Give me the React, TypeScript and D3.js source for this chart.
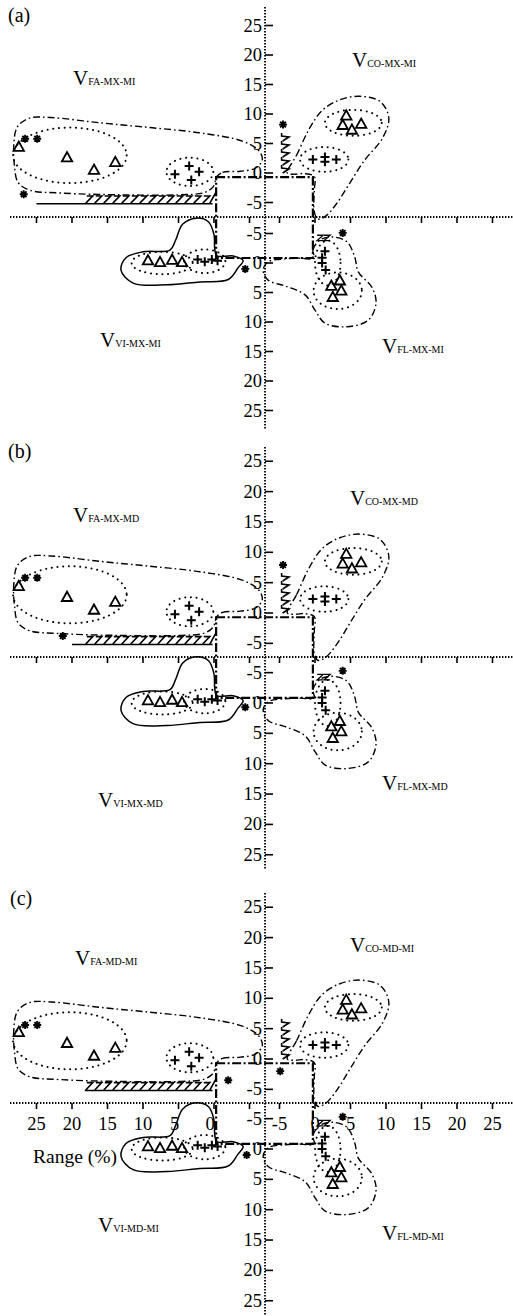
import * as d3 from 'd3';

type Pt = [number, number];
type Group = [number, number, number, number];

// ---- axis ticks ----
const yTicksUp = [25, 20, 15, 10, 5, 0, -5];
const yTicksDown = [-5, 0, 5, 10, 15, 20, 25];
const xTicksLeft = [25, 20, 15, 10, 5, 0, -5];
const xTicksRight = [-5, 0, 5, 10, 15, 20, 25];
const xLabelsLeft = [25, 20, 15, 10, 5, 0];
const xLabelsRight = [-5, 0, 5, 10, 15, 20, 25];

// ---- panel names ----
const panelTags = ['(a)', '(b)', '(c)'];
const faNames = ['FA-MX-MI', 'FA-MX-MD', 'FA-MD-MI'];
const coNames = ['CO-MX-MI', 'CO-MX-MD', 'CO-MD-MI'];
const viNames = ['VI-MX-MI', 'VI-MX-MD', 'VI-MD-MI'];
const flNames = ['FL-MX-MI', 'FL-MX-MD', 'FL-MD-MI'];

// ---- outlines, in range (%) measured outward from each quadrant origin ----
const faHull: Pt[] = [[-0.4, -0.6], [-1.2, 0.1], [-3.7, 0.3], [-5.8, 0.8], [-6.8, 2.2], [-6.3, 3.8], [-4.0, 5.4], [2, 6.8], [9, 7.7], [16, 8.5], [23, 9.4], [26, 9.3], [27.7, 7.8], [28.2, 4.7], [28.1, 1.2], [27.6, -1.6], [26, -2.9], [21.5, -3.4], [13, -3.7], [5, -3.7], [1.3, -3.3], [0.1, -2.3], [-0.2, -1.2]];
const coHull: Pt[] = [[-3.9, 0], [-2.6, 3.0], [-0.8, 7.5], [1.0, 10.6], [3.5, 12.4], [6.3, 13.0], [9.2, 12.1], [10.4, 9.3], [9.5, 5.9], [7.0, 2.2], [4.9, -1.7], [3.1, -5.1], [1.5, -7.3], [0.4, -7.8], [-0.1, -6.6], [-0.1, -3], [-0.1, -0.6], [-1.5, -0.1], [-2.8, -0.2]];
const viHull: Pt[] = [[-0.4, -1.2], [-2.7, -1.2], [-4.1, -0.4], [-3.4, 0.8], [-2.0, 2.8], [2.0, 3.2], [6.6, 3.7], [11.4, 3.4], [13.1, 1.2], [12.4, -0.9], [10, -1.9], [6.2, -2.2], [5.4, -3.9], [4.4, -6.6], [2.5, -7.6], [0.8, -7.0], [0, -4.8], [-0.1, -2.5]];
const flHull: Pt[] = [[-0.1, -0.8], [-0.3, -2.2], [0.7, -3.9], [2.5, -4.4], [4.5, -3.6], [5.6, -1.0], [6.1, 1.5], [8.0, 4.1], [8.6, 6.8], [7.5, 9.7], [4.5, 10.8], [1.4, 10.2], [0, 8.0], [-1.4, 5.4], [-4.2, 3.9], [-6.6, 2.9], [-7.3, 1.2], [-6.6, -0.2], [-4.2, -0.7], [-2.1, -0.8]];

// ---- dotted groupings [cx, cy, rx, ry] ----
const faGroups: Group[] = [[20.3, 3.0, 8.0, 4.7], [3.4, 0.2, 3.3, 2.4]];
const coGroups: Group[] = [[5.4, 8.5, 4.0, 2.2], [1.3, 2.3, 3.4, 2.1]];
const viGroups: Group[] = [[7.3, 0, 4.3, 1.9], [1.3, -0.3, 2.9, 2.0]];
const flGroups: Group[] = [[1.8, 0, 1.8, 3.8], [3.2, 4.7, 3.4, 3.1]];

// ---- markers ----
const faTriangles: Pt[] = [[27.5, 4.4], [20.7, 2.6], [16.9, 0.5], [13.9, 1.8]];
const coTriangles: Pt[] = [[4.4, 9.7], [3.9, 8.1], [5.2, 7.3], [6.5, 8.3]];
const viTriangles: Pt[] = [[9.3, -0.4], [7.6, -0.1], [5.9, -0.5], [4.5, -0.1]];
const flTriangles: Pt[] = [[3.5, 3.0], [2.3, 3.9], [3.7, 4.7], [2.5, 5.8]];

const faPlus: Pt[] = [[5.5, -0.2], [3.5, 1.2], [2.1, 0.2], [3.2, -1.2]];
const coPlus: Pt[] = [[-0.3, 2.3], [1.4, 2.7], [1.4, 1.9], [3.0, 2.3]];
const viPlus: Pt[] = [[2.3, -0.6], [1.3, -0.2], [0.3, -0.6], [-0.5, -0.4]];
const flPlus: Pt[] = [[1.4, -2.0], [1.0, -0.9], [1.0, 0], [1.5, 1.2]];

const faStars: Pt[][] = [[[26.6, 5.8], [24.9, 5.8], [26.8, -3.6]], [[26.6, 5.8], [24.9, 5.8], [21.3, -3.8]], [[26.6, 5.6], [24.9, 5.6], [-2.0, -3.5]]];
const coStars: Pt[][] = [[[-4.5, 8.2]], [[-4.5, 7.9]], [[-4.9, -2.0]]];
const viStars: Pt[][] = [[[-4.4, 1.0]], [[-4.4, 0.7]], [[-4.6, 1.0]]];
const flStars: Pt[][] = [[[3.9, -5.1]], [[3.9, -5.3]], [[3.9, -5.3]]];

// ---- hatched bands ----
const faBandLead = [25, 20, 18.2];
const faBandX: Pt = [18.2, 0.2];
const faBandY: Pt = [-3.9, -5.2];
const coColumnX: Pt = [-4.7, -3.8];
const coColumnTop = [7.0, 7.0, 6.4];
const flHatchX: Pt = [0.3, 2.2];
const flHatchY: Pt = [-3.8, -4.7];
const rectTop = -0.7;
const rectBottom = -0.85;
const rectSide = -0.3;

const layout = [
  { axis: 217, unit: 5.9, tag: [8, 22], fa: [73, 85], co: [352, 67], vi: [100, 347], fl: [382, 353] },
  { axis: 657, unit: 6.07, tag: [8, 458], fa: [73, 522], co: [350, 505], vi: [98, 807], fl: [382, 790] },
  { axis: 1103, unit: 6.07, tag: [10, 905], fa: [75, 965], co: [350, 952], vi: [98, 1232], fl: [382, 1240] },
];

const serif = '"Liberation Serif", "Times New Roman", serif';
const dashDot = '7 3 1.6 3';
const dotted = '0.1 5.6';

const xL = d3.scaleLinear().domain([0, 25]).range([214, 36.5]);
const xR = d3.scaleLinear().domain([0, 25]).range([315, 492.5]);

const hullLine = d3.line().curve(d3.curveCatmullRomClosed.alpha(0.5));

const Panel = ({ i }: { i: number }) => {
  const L = layout[i];
  const up0 = L.axis - 44;
  const lo0 = L.axis + 46;
  const yU = d3.scaleLinear().domain([0, 25]).range([up0, up0 - 25 * L.unit]);
  const yD = d3.scaleLinear().domain([0, 25]).range([lo0, lo0 + 25 * L.unit]);
  const fa = (p: Pt): Pt => [xL(p[0]), yU(p[1])];
  const co = (p: Pt): Pt => [xR(p[0]), yU(p[1])];
  const vi = (p: Pt): Pt => [xL(p[0]), yD(p[1])];
  const fl = (p: Pt): Pt => [xR(p[0]), yD(p[1])];

  const ellipse = (g: Group, m: (p: Pt) => Pt, k: string) => {
    const c = m([g[0], g[1]]);
    const rx = Math.abs(m([g[0] + g[2], g[1]])[0] - c[0]);
    const ry = Math.abs(m([g[0], g[1] + g[3]])[1] - c[1]);
    return <ellipse key={k} cx={c[0]} cy={c[1]} rx={rx} ry={ry} fill="none" stroke="#000"
      strokeWidth={2} strokeDasharray={dotted} strokeLinecap="round" />;
  };
  const tri = (p: Pt, k: string) => {
    const [x, y] = p;
    return <path key={k} d={`M${x},${y - 5.5}L${x + 5.2},${y + 3.8}L${x - 5.2},${y + 3.8}Z`}
      fill="none" stroke="#000" strokeWidth={1.8} strokeLinejoin="miter" />;
  };
  const plus = (p: Pt, k: string) => {
    const [x, y] = p;
    return <path key={k} d={`M${x - 4.5},${y}H${x + 4.5}M${x},${y - 4.5}V${y + 4.5}`}
      stroke="#000" strokeWidth={2} />;
  };
  const star = (p: Pt, k: string) => {
    const [x, y] = p;
    const r = 4;
    const d = [0, 45, 90, 135].map(a => {
      const t = (a * Math.PI) / 180;
      return `M${x - r * Math.cos(t)},${y - r * Math.sin(t)}L${x + r * Math.cos(t)},${y + r * Math.sin(t)}`;
    }).join('');
    return <path key={k} d={d} stroke="#000" strokeWidth={1.9} />;
  };

  // horizontal zig-zag band in FA
  const b0 = fa([faBandX[0], faBandY[0]]);
  const b1 = fa([faBandX[1], faBandY[1]]);
  const lead = fa([faBandLead[i], faBandY[1]]);
  let band = `M${lead[0]},${b1[1]}H${b1[0]}`;
  for (let x = b0[0]; x < b1[0] - 6; x += 9) {
    band += `M${x + 2},${b0[1]}H${x + 8}L${x + 1},${b1[1] - 0.5}`;
  }
  band += `M${b1[0] - 3},${b1[1]}L${b1[0] + 3},${b0[1] - 3}`;

  // vertical zig-zag column in CO
  const c0 = co([coColumnX[0], 0]);
  const c1 = co([coColumnX[1], coColumnTop[i]]);
  let column = '';
  for (let y = c0[1]; y > c1[1] + 4; y -= 8) {
    column += `M${c0[0] + 1},${y}L${c1[0] + 1},${y - 4}L${c0[0]},${y - 5}V${y - 8}`;
  }

  // small hatch in FL
  const h0 = fl([flHatchX[0], flHatchY[0]]);
  const h1 = fl([flHatchX[1], flHatchY[1]]);
  let hatch = '';
  for (let x = h0[0]; x < h1[0] - 3; x += 7) {
    hatch += `M${x},${h1[1]}H${x + 6}L${x},${h0[1]}H${x + 6}`;
  }

  const tl = fa([rectSide, rectTop]);
  const br = fl([rectSide, rectBottom]);

  const vTop = L.axis - 210;
  const vBot = Math.min(L.axis + 213, 1316);
  const tickFont = 18.5;

  const label = (pos: number[], name: string) => (
    <text x={pos[0]} y={pos[1]} fontFamily={serif} fill="#000">
      <tspan fontSize={21}>V</tspan>
      <tspan fontSize={10}>{name}</tspan>
    </text>
  );

  return (
    <g>
      {/* axes */}
      <line x1={265} x2={265} y1={vTop} y2={vBot} stroke="#000" strokeWidth={1.8} strokeDasharray="1.4 1.6" />
      <line x1={10} x2={513} y1={L.axis} y2={L.axis} stroke="#000" strokeWidth={1.8} strokeDasharray="1.4 1.6" />
      {yTicksUp.map(t => (
        <g key={'yu' + t}>
          <line x1={265} x2={273} y1={yU(t)} y2={yU(t)} stroke="#000" strokeWidth={1.6} />
          <text x={262} y={yU(t) + 6} textAnchor="end" fontFamily={serif} fontSize={tickFont}>{t}</text>
        </g>
      ))}
      {yTicksDown.map(t => (
        <g key={'yd' + t}>
          <line x1={265} x2={273} y1={yD(t)} y2={yD(t)} stroke="#000" strokeWidth={1.6} />
          <text x={262} y={yD(t) + 6} textAnchor="end" fontFamily={serif} fontSize={tickFont}>{t}</text>
        </g>
      ))}
      {xTicksLeft.map(t => (
        <line key={'xl' + t} x1={xL(t)} x2={xL(t)} y1={L.axis} y2={L.axis + 6} stroke="#000" strokeWidth={1.6} />
      ))}
      {xTicksRight.map(t => (
        <line key={'xr' + t} x1={xR(t)} x2={xR(t)} y1={L.axis} y2={L.axis + 6} stroke="#000" strokeWidth={1.6} />
      ))}
      {i === 2 && xLabelsLeft.map(t => (
        <text key={'xll' + t} x={xL(t) - (t < 10 ? 4 : 0)} y={L.axis + 27} textAnchor="middle" fontFamily={serif} fontSize={tickFont}>{t}</text>
      ))}
      {i === 2 && xLabelsRight.map(t => (
        <text key={'xrl' + t} x={xR(t)} y={L.axis + 27} textAnchor="middle" fontFamily={serif} fontSize={tickFont}>{t}</text>
      ))}
      {i === 2 && (
        <text x={33} y={L.axis + 60} fontFamily={serif} fontSize={19.5}>Range (%)</text>
      )}

      {/* labels */}
      <text x={L.tag[0]} y={L.tag[1]} fontFamily={serif} fontSize={20}>{panelTags[i]}</text>
      {label(L.fa, faNames[i])}
      {label(L.co, coNames[i])}
      {label(L.vi, viNames[i])}
      {label(L.fl, flNames[i])}

      {/* central box */}
      <rect x={tl[0]} y={tl[1]} width={br[0] - tl[0]} height={br[1] - tl[1]} fill="none" stroke="#000"
        strokeWidth={2.2} strokeDasharray="9 2.5 2 2.5" />

      {/* outlines */}
      <path d={hullLine(faHull.map(fa)) || ''} fill="none" stroke="#000" strokeWidth={1.4} strokeDasharray={dashDot} />
      <path d={hullLine(coHull.map(co)) || ''} fill="none" stroke="#000" strokeWidth={1.4} strokeDasharray={dashDot} />
      <path d={hullLine(flHull.map(fl)) || ''} fill="none" stroke="#000" strokeWidth={1.4} strokeDasharray={dashDot} />
      <path d={hullLine(viHull.map(vi)) || ''} fill="none" stroke="#000" strokeWidth={1.5} />

      {faGroups.map((g, j) => ellipse(g, fa, 'fag' + j))}
      {coGroups.map((g, j) => ellipse(g, co, 'cog' + j))}
      {viGroups.map((g, j) => ellipse(g, vi, 'vig' + j))}
      {flGroups.map((g, j) => ellipse(g, fl, 'flg' + j))}

      <path d={band} fill="none" stroke="#000" strokeWidth={1.6} />
      <path d={column} fill="none" stroke="#000" strokeWidth={1.6} />
      <path d={hatch} fill="none" stroke="#000" strokeWidth={1.3} />

      {faTriangles.map((p, j) => tri(fa(p), 'fat' + j))}
      {coTriangles.map((p, j) => tri(co(p), 'cot' + j))}
      {viTriangles.map((p, j) => tri(vi(p), 'vit' + j))}
      {flTriangles.map((p, j) => tri(fl(p), 'flt' + j))}

      {faPlus.map((p, j) => plus(fa(p), 'fap' + j))}
      {coPlus.map((p, j) => plus(co(p), 'cop' + j))}
      {viPlus.map((p, j) => plus(vi(p), 'vip' + j))}
      {flPlus.map((p, j) => plus(fl(p), 'flp' + j))}

      {faStars[i].map((p, j) => star(fa(p), 'fas' + j))}
      {coStars[i].map((p, j) => star(co(p), 'cos' + j))}
      {viStars[i].map((p, j) => star(vi(p), 'vis' + j))}
      {flStars[i].map((p, j) => star(fl(p), 'fls' + j))}
    </g>
  );
};

const App = () => (
  <svg width={513} height={1316} style={{ position: 'absolute', left: 0, top: 0, background: '#fff' }}>
    <rect width={513} height={1316} fill="#fff" />
    {[0, 1, 2].map(i => <Panel key={i} i={i} />)}
  </svg>
);

export default App;
